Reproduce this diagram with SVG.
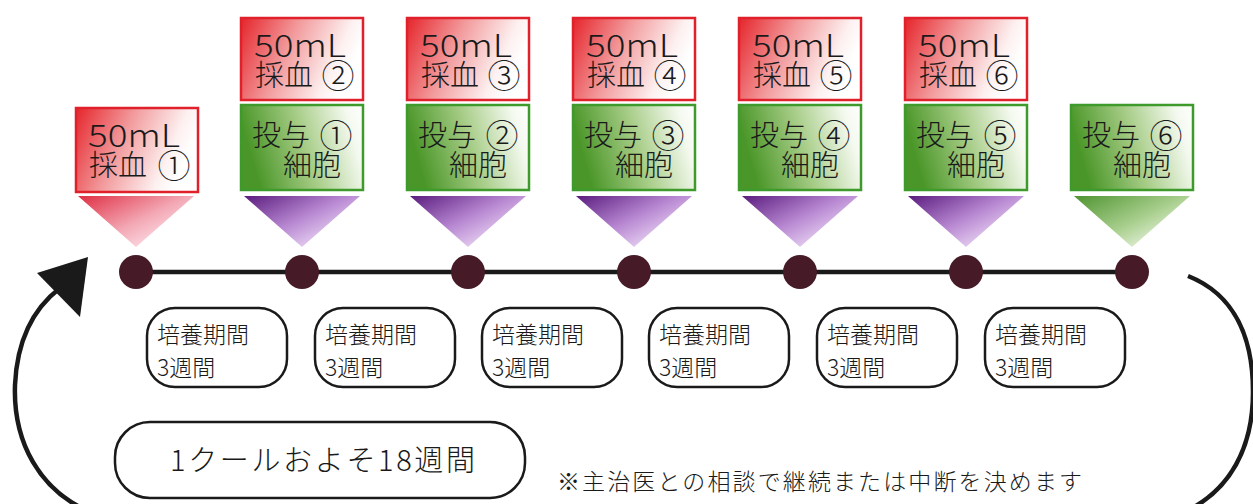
<svg xmlns="http://www.w3.org/2000/svg" width="1253" height="504" viewBox="0 0 1253 504">
<style>
text{font-family:"Noto Sans CJK JP","Liberation Sans",sans-serif;font-weight:300;fill:#1a1a1a}
.big{font-size:29px}
.lat{font-size:31px}
.cul{font-size:23px}
.num{text-anchor:middle;font-size:33px}
.red{fill:url(#gRed);stroke:#e0202a;stroke-width:2.5}
.grn{fill:url(#gGrn);stroke:#3f9a2c;stroke-width:2.5}
.cbox{fill:#fff;stroke:#1a1a1a;stroke-width:2.5}
.dot{fill:#461a26}
</style>
<defs>
<linearGradient id="gRed" x1="0" y1="0" x2="1" y2="0.3">
<stop offset="0" stop-color="#e5252b"/><stop offset="0.45" stop-color="#f29a9c"/><stop offset="0.85" stop-color="#fdf0f0"/><stop offset="1" stop-color="#ffffff"/>
</linearGradient>
<linearGradient id="gGrn" x1="0" y1="0.2" x2="1" y2="0">
<stop offset="0" stop-color="#4a9628"/><stop offset="0.45" stop-color="#a6cc86"/><stop offset="0.85" stop-color="#f4f9ef"/><stop offset="1" stop-color="#ffffff"/>
</linearGradient>
<linearGradient id="tRed" x1="0" y1="0" x2="0.9" y2="0.8">
<stop offset="0" stop-color="#df2e42"/><stop offset="0.6" stop-color="#f3a9b6"/><stop offset="1" stop-color="#fde6ec"/>
</linearGradient>
<linearGradient id="tPur" x1="0" y1="0" x2="0.9" y2="0.8">
<stop offset="0" stop-color="#5a1c7e"/><stop offset="0.55" stop-color="#b888d2"/><stop offset="1" stop-color="#f1e2f8"/>
</linearGradient>
<linearGradient id="tGrn" x1="0" y1="0" x2="0.9" y2="0.8">
<stop offset="0" stop-color="#4e9430"/><stop offset="0.6" stop-color="#a9cf8e"/><stop offset="1" stop-color="#eef6e6"/>
</linearGradient>
</defs>
<rect width="1253" height="504" fill="#ffffff"/>

<g id="connectors">
<line x1="136" y1="272" x2="1132" y2="272" stroke="#1a1a1a" stroke-width="4.5"/>
<path d="M1188,276 C1236,295 1253,340 1253,392 C1253,445 1232,492 1180,514 L95,514 C38,492 13,440 15,385 C17,340 34,308 60,288" fill="none" stroke="#1a1a1a" stroke-width="4.5"/>
<polygon points="88,257 37,273 80,317" fill="#1a1a1a"/>
</g>

<g id="dots">
<circle class="dot" cx="136" cy="272" r="17"/>
<circle class="dot" cx="302" cy="272" r="17"/>
<circle class="dot" cx="468" cy="272" r="17"/>
<circle class="dot" cx="634" cy="272" r="17"/>
<circle class="dot" cx="800" cy="272" r="17"/>
<circle class="dot" cx="966" cy="272" r="17"/>
<circle class="dot" cx="1132" cy="272" r="17"/>
</g>

<g id="col0">
<rect class="red" x="76" y="108" width="122" height="84"/>
<text class="lat" x="88" y="147" textLength="92" lengthAdjust="spacingAndGlyphs">50mL</text>
<text class="big" x="89" y="176">採血</text><text class="num" x="174" y="178">①</text>
<polygon points="78,196 194,196 136,247" fill="url(#tRed)"/>
</g>

<g id="col1">
<rect class="red" x="241" y="18" width="122" height="82"/>
<text class="lat" x="254" y="57" textLength="92" lengthAdjust="spacingAndGlyphs">50mL</text>
<text class="big" x="255" y="86">採血</text><text class="num" x="338" y="88">②</text>
<rect class="grn" x="241" y="105" width="122" height="85"/>
<text class="big" x="252" y="146">投与</text><text class="num" x="336" y="148">①</text>
<text class="big" x="283" y="176">細胞</text>
<polygon points="244,196 360,196 302,247" fill="url(#tPur)"/>
</g>

<g id="col2">
<rect class="red" x="407" y="18" width="122" height="82"/>
<text class="lat" x="420" y="57" textLength="92" lengthAdjust="spacingAndGlyphs">50mL</text>
<text class="big" x="421" y="86">採血</text><text class="num" x="504" y="88">③</text>
<rect class="grn" x="407" y="105" width="122" height="85"/>
<text class="big" x="418" y="146">投与</text><text class="num" x="502" y="148">②</text>
<text class="big" x="449" y="176">細胞</text>
<polygon points="410,196 526,196 468,247" fill="url(#tPur)"/>
</g>

<g id="col3">
<rect class="red" x="573" y="18" width="122" height="82"/>
<text class="lat" x="586" y="57" textLength="92" lengthAdjust="spacingAndGlyphs">50mL</text>
<text class="big" x="587" y="86">採血</text><text class="num" x="670" y="88">④</text>
<rect class="grn" x="573" y="105" width="122" height="85"/>
<text class="big" x="584" y="146">投与</text><text class="num" x="668" y="148">③</text>
<text class="big" x="615" y="176">細胞</text>
<polygon points="576,196 692,196 634,247" fill="url(#tPur)"/>
</g>

<g id="col4">
<rect class="red" x="739" y="18" width="122" height="82"/>
<text class="lat" x="752" y="57" textLength="92" lengthAdjust="spacingAndGlyphs">50mL</text>
<text class="big" x="753" y="86">採血</text><text class="num" x="836" y="88">⑤</text>
<rect class="grn" x="739" y="105" width="122" height="85"/>
<text class="big" x="750" y="146">投与</text><text class="num" x="834" y="148">④</text>
<text class="big" x="781" y="176">細胞</text>
<polygon points="742,196 858,196 800,247" fill="url(#tPur)"/>
</g>

<g id="col5">
<rect class="red" x="905" y="18" width="122" height="82"/>
<text class="lat" x="918" y="57" textLength="92" lengthAdjust="spacingAndGlyphs">50mL</text>
<text class="big" x="919" y="86">採血</text><text class="num" x="1002" y="88">⑥</text>
<rect class="grn" x="905" y="105" width="122" height="85"/>
<text class="big" x="916" y="146">投与</text><text class="num" x="1000" y="148">⑤</text>
<text class="big" x="947" y="176">細胞</text>
<polygon points="908,196 1024,196 966,247" fill="url(#tPur)"/>
</g>

<g id="col6">
<rect class="grn" x="1071" y="105" width="122" height="85"/>
<text class="big" x="1082" y="146">投与</text><text class="num" x="1166" y="148">⑥</text>
<text class="big" x="1113" y="176">細胞</text>
<polygon points="1074,196 1190,196 1132,247" fill="url(#tGrn)"/>
</g>

<g id="culture1"><rect class="cbox" x="147" y="308" width="140" height="79" rx="28"/><text class="cul" x="157" y="343">培養期間</text><text class="cul" x="157" y="376">3週間</text></g>
<g id="culture2"><rect class="cbox" x="315" y="308" width="140" height="79" rx="28"/><text class="cul" x="325" y="343">培養期間</text><text class="cul" x="325" y="376">3週間</text></g>
<g id="culture3"><rect class="cbox" x="482" y="308" width="140" height="79" rx="28"/><text class="cul" x="492" y="343">培養期間</text><text class="cul" x="492" y="376">3週間</text></g>
<g id="culture4"><rect class="cbox" x="649" y="308" width="140" height="79" rx="28"/><text class="cul" x="659" y="343">培養期間</text><text class="cul" x="659" y="376">3週間</text></g>
<g id="culture5"><rect class="cbox" x="817" y="308" width="140" height="79" rx="28"/><text class="cul" x="827" y="343">培養期間</text><text class="cul" x="827" y="376">3週間</text></g>
<g id="culture6"><rect class="cbox" x="985" y="308" width="140" height="79" rx="28"/><text class="cul" x="995" y="343">培養期間</text><text class="cul" x="995" y="376">3週間</text></g>

<g id="cycle">
<rect class="cbox" x="115" y="422" width="410" height="76" rx="35"/>
<text class="big" x="170" y="471" textLength="305">1クールおよそ18週間</text>
</g>

<g id="note">
<text class="cul" x="557" y="490" textLength="525">※主治医との相談で継続または中断を決めます</text>
</g>
</svg>
